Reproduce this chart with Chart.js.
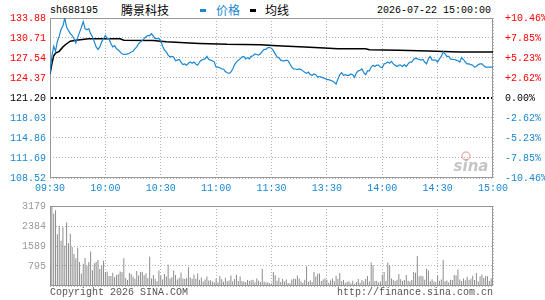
<!DOCTYPE html>
<html>
<head>
<meta charset="utf-8">
<script src="https://cdn.jsdelivr.net/npm/chart.js@4/dist/chart.umd.min.js"></script>
<style>
body { margin: 0; background: #fff; width: 545px; height: 300px; position: relative; overflow: hidden; }
canvas { position: absolute; left: 0; display: block; }
.txt { position: absolute; white-space: nowrap; font-family: 'Liberation Mono', 'DejaVu Sans Mono', monospace; font-size: 10px; line-height: 12px; color: #000; }
.cjk { position: absolute; white-space: nowrap; font-family: 'Noto Sans CJK SC', sans-serif; font-size: 12px; line-height: 14px; }
.dash { position: absolute; width: 6px; height: 3px; }
</style>
</head>
<body>
<div class="txt" style="left:50px;top:5px;">sh688195</div>
<div class="cjk" style="left:121px;top:3px;color:#000;">腾景科技</div>
<div class="dash" style="left:200px;top:9px;background:#1a87d0;"></div>
<div class="cjk" style="left:216px;top:3px;color:#1a87d0;">价格</div>
<div class="dash" style="left:250px;top:9px;background:#000;"></div>
<div class="cjk" style="left:265px;top:3px;color:#000;">均线</div>
<div class="txt" style="right:54px;top:5px;">2026-07-22 15:00:00</div>

<canvas id="priceChart" width="545" height="196" style="top:0;"></canvas>
<canvas id="volChart" width="545" height="104" style="top:196px;"></canvas>

<div class="txt" style="left:50px;top:287px;color:#555;">Copyright 2026 SINA.COM</div>
<div class="txt" style="right:52px;top:287px;color:#555;">http://finance.sina.com.cn</div>

<script>
// previous close and axis ticks
const prevClose = 121.20;
const priceTicks = [133.88, 130.71, 127.54, 124.37, 121.20, 118.03, 114.86, 111.69, 108.52];
const pctTicks = ['+10.46%', '+7.85%', '+5.23%', '+2.62%', '0.00%', '-2.62%', '-5.23%', '-7.85%', '-10.46%'];
const timeLabels = ['09:30', '10:00', '10:30', '11:00', '11:30', '13:30', '14:00', '14:30', '15:00'];
const timeTickMinutes = [0, 30, 60, 90, 120, 150, 180, 210, 240];
const volTicks = [0, 795, 1589, 2384, 3179];

// price per minute (index = minutes since 09:30, lunch break removed)
const priceValues = [
    125.0, 127.8, 129.4, 128.6, 130.2, 131.0, 132.1, 132.6, 133.88, 132.4,
    131.9, 131.4, 131.1, 130.6, 129.9, 130.8, 131.6, 132.4, 133.3, 132.2,
    132.0, 132.2, 131.4, 130.9, 130.1, 129.3, 128.9, 129.3, 130.1, 130.6,
    131.1, 130.6, 130.6, 129.8, 129.3, 129.5, 129.0, 128.8, 128.5, 128.2,
    128.1, 128.1, 128.2, 128.3, 128.5, 128.6, 129.0, 129.3, 129.8, 130.1,
    130.3, 130.6, 130.9, 131.1, 131.1, 131.4, 131.0, 130.6, 130.6, 130.6,
    130.3, 129.4, 128.8, 128.5, 128.0, 127.7, 127.8, 127.7, 127.1, 127.2,
    127.3, 126.9, 126.5, 126.6, 126.4, 126.7, 126.9, 126.7, 126.9, 126.6,
    126.4, 126.9, 127.2, 127.3, 127.4, 127.8, 127.3, 127.2, 127.1, 126.9,
    126.1, 126.1, 126.0, 125.8, 125.8, 125.4, 125.2, 125.1, 125.3, 125.8,
    126.5, 126.9, 127.2, 127.4, 127.7, 127.8, 127.4, 127.6, 127.4, 127.8,
    127.9, 128.2, 128.1, 128.0, 128.2, 128.6, 128.9, 128.9, 129.2, 129.2,
    129.1, 128.7, 128.2, 127.7, 127.6, 127.2, 127.1, 127.1, 127.2, 127.1,
    126.6, 126.1, 125.8, 125.8, 125.7, 125.8, 125.7, 125.5, 125.3, 125.1,
    125.3, 124.9, 124.8, 125.0, 124.9, 124.5, 124.6, 124.5, 124.4, 124.3,
    124.1, 124.1, 124.0, 123.9, 123.7, 123.4, 124.2, 124.9, 125.2, 124.8,
    124.9, 124.8, 124.8, 125.0, 124.9, 124.5, 125.2, 125.5, 125.6, 125.8,
    125.2, 124.9, 125.5, 125.5, 126.1, 126.4, 126.2, 126.4, 126.4, 126.1,
    126.0, 126.6, 126.7, 126.9, 126.7, 127.0, 126.6, 126.4, 126.2, 126.4,
    126.4, 126.2, 126.5, 126.2, 126.6, 126.9, 126.9, 127.3, 127.5, 127.4,
    127.3, 127.2, 127.3, 126.9, 126.6, 127.4, 127.8, 127.2, 127.2, 127.2,
    126.9, 127.4, 127.8, 128.5, 128.2, 127.8, 127.8, 127.4, 127.3, 127.3,
    127.2, 127.1, 126.9, 127.6, 127.3, 126.9, 126.6, 126.6, 126.5, 126.4,
    126.1, 126.2, 126.5, 126.6, 126.6, 126.3, 126.1, 126.1, 126.1, 126.1,
    126.1
];

// average price line, read at the points where it changes
const avgMinutes = [0, 1, 2, 3, 5, 7, 9, 11, 14, 21, 38, 40, 56, 60, 63, 73, 81, 96, 114, 123, 138, 146, 156, 171, 173, 189, 205, 222, 240];
const avgValues = [125.0, 126.6, 127.9, 128.3, 128.6, 129.3, 129.8, 130.2, 130.35, 130.6, 130.6, 130.35, 130.3, 130.2, 130.1, 129.95, 129.85, 129.7, 129.65, 129.5, 129.3, 129.15, 129.0, 129.0, 128.85, 128.75, 128.65, 128.5, 128.5];

// volume per minute
const volValues = [
    745, 3179, 2880, 3010, 2060, 2390, 1800, 2330, 1600, 2520,
    1700, 2080, 1550, 1270, 1100, 1520, 950, 500, 880, 1110,
    800, 950, 1370, 630, 900, 950, 1030, 680, 820, 1000,
    560, 580, 400, 400, 530, 350, 440, 470, 580, 560,
    1100, 320, 240, 520, 480, 380, 290, 600, 420, 560,
    560, 430, 510, 320, 1160, 300, 440, 290, 190, 620,
    410, 260, 480, 380, 850, 300, 350, 620, 440, 260,
    330, 540, 300, 280, 320, 745, 340, 290, 460, 290,
    500, 250, 340, 180, 260, 380, 220, 230, 180, 150,
    290, 150, 400, 270, 170, 330, 190, 220, 420, 190,
    280, 450, 200, 380, 200, 180, 160, 240, 200, 230,
    250, 140, 300, 210, 160, 690, 170, 140, 150, 110,
    100, 555, 430, 210, 330, 160, 280, 180, 260, 120,
    110, 260, 300, 280, 420, 300, 180, 120, 250, 780,
    170, 230, 160, 555, 380, 490, 500, 200, 260, 300,
    250, 130, 220, 300, 190, 410, 280, 515, 190, 240,
    130, 170, 190, 100, 210, 90, 160, 280, 130, 240,
    180, 280, 400, 180, 930, 820, 200, 210, 140, 180,
    450, 560, 210, 930, 820, 300, 240, 200, 250, 480,
    270, 200, 240, 440, 210, 180, 240, 560, 530, 1197,
    390, 420, 390, 250, 690, 620, 190, 270, 180, 150,
    420, 210, 260, 1033, 190, 220, 150, 250, 240, 440,
    420, 655, 260, 200, 300, 230, 370, 240, 290, 410,
    240, 520, 180, 380, 450, 320, 400, 390, 200, 300,
    300
];

const RED = '#ff0000';
const BLUE = '#1a87d0';
const GRID = '#b4b4b4';
const FRAME = '#999999';
const monoFont = { family: "'Liberation Mono', 'DejaVu Sans Mono', monospace", size: 10 };

function isPrevClose(v) {
    return Math.abs(v - prevClose) < 0.001;
}

function priceColor(v) {
    if (isPrevClose(v)) return '#000';
    return v > prevClose ? RED : BLUE;
}

function pctLabel(v) {
    const i = priceTicks.findIndex(p => Math.abs(p - v) < 0.001);
    return i >= 0 ? pctTicks[i] : '';
}

// grey box round the plot area
const framePlugin = {
    id: 'frame',
    beforeDatasetsDraw(chart) {
        const a = chart.chartArea;
        const ctx = chart.ctx;
        ctx.save();
        ctx.strokeStyle = FRAME;
        ctx.lineWidth = 1;
        ctx.strokeRect(Math.round(a.left) + 0.5, Math.round(a.top) + 0.5,
            Math.round(a.right - a.left) - 1, Math.round(a.bottom - a.top) - 1);
        ctx.restore();
    }
};

// black dashed line at the previous close
const prevClosePlugin = {
    id: 'prevClose',
    beforeDatasetsDraw(chart) {
        const a = chart.chartArea;
        const y = Math.round(chart.scales.y.getPixelForValue(prevClose));
        const ctx = chart.ctx;
        ctx.save();
        ctx.strokeStyle = '#000';
        ctx.lineWidth = 2;
        ctx.setLineDash([2, 2]);
        ctx.beginPath();
        ctx.moveTo(a.left + 1, y);
        ctx.lineTo(a.right - 1, y);
        ctx.stroke();
        ctx.restore();
    }
};

// faint sina watermark in the lower right corner
const sinaPlugin = {
    id: 'sina',
    beforeDatasetsDraw(chart) {
        const a = chart.chartArea;
        const ctx = chart.ctx;
        ctx.save();
        ctx.strokeStyle = 'rgba(230, 120, 120, 0.55)';
        ctx.lineWidth = 1.5;
        ctx.beginPath();
        ctx.arc(a.right - 27, a.bottom - 22, 4, 0, Math.PI * 2);
        ctx.stroke();
        ctx.fillStyle = 'rgba(150, 150, 150, 0.55)';
        ctx.font = "italic bold 15px 'DejaVu Sans', sans-serif";
        ctx.textAlign = 'center';
        ctx.textBaseline = 'middle';
        ctx.fillText('sina', a.right - 22, a.bottom - 11);
        ctx.restore();
    }
};

function setTicks(values) {
    return scale => {
        scale.ticks = values.slice().sort((a, b) => a - b).map(v => ({ value: v }));
    };
}

// price chart
new Chart(document.getElementById('priceChart'), {
    type: 'line',
    data: {
        datasets: [
            {
                label: '价格',
                data: priceValues.map((v, i) => ({ x: i, y: v })),
                borderColor: BLUE,
                borderWidth: 1.2,
                pointRadius: 0,
                tension: 0,
                yAxisID: 'y'
            },
            {
                label: '均线',
                data: avgMinutes.map((m, i) => ({ x: m, y: avgValues[i] })),
                borderColor: '#000',
                borderWidth: 1.5,
                pointRadius: 0,
                tension: 0,
                yAxisID: 'y'
            }
        ]
    },
    options: {
        responsive: false,
        animation: false,
        devicePixelRatio: 1,
        layout: { padding: { top: 18, left: 0, right: 0, bottom: 0 } },
        plugins: { legend: { display: false }, tooltip: { enabled: false } },
        scales: {
            x: {
                type: 'linear',
                min: 0,
                max: 240,
                afterBuildTicks: setTicks(timeTickMinutes),
                afterFit: s => { s.height = 18; },
                ticks: {
                    callback: v => timeLabels[timeTickMinutes.indexOf(v)],
                    color: BLUE,
                    font: monoFont,
                    padding: 4,
                    maxRotation: 0,
                    autoSkip: false
                },
                grid: { color: GRID, drawTicks: false },
                border: { display: false, dash: [1, 2] }
            },
            y: {
                position: 'left',
                min: 108.52,
                max: 133.88,
                afterBuildTicks: setTicks(priceTicks),
                afterFit: s => { s.width = 50; },
                ticks: {
                    callback: v => v.toFixed(2),
                    color: ctx => priceColor(ctx.tick.value),
                    font: monoFont,
                    padding: 4,
                    autoSkip: false
                },
                grid: {
                    color: ctx => isPrevClose(ctx.tick.value) ? 'rgba(0,0,0,0)' : GRID,
                    drawTicks: false
                },
                border: { display: false, dash: [1, 2] }
            },
            y2: {
                position: 'right',
                min: 108.52,
                max: 133.88,
                afterBuildTicks: setTicks(priceTicks),
                afterFit: s => { s.width = 52; },
                ticks: {
                    callback: v => pctLabel(v),
                    color: ctx => priceColor(ctx.tick.value),
                    font: monoFont,
                    padding: 4,
                    autoSkip: false
                },
                grid: { display: false },
                border: { display: false }
            }
        }
    },
    plugins: [framePlugin, prevClosePlugin, sinaPlugin]
});

// volume chart
new Chart(document.getElementById('volChart'), {
    type: 'bar',
    data: {
        datasets: [{
            label: 'volume',
            data: volValues.map((v, i) => ({ x: i, y: v })),
            backgroundColor: '#8c8c8c',
            borderWidth: 0,
            barThickness: 1,
            inflateAmount: 0
        }]
    },
    options: {
        responsive: false,
        animation: false,
        devicePixelRatio: 1,
        layout: { padding: { top: 6, left: 0, right: 52, bottom: 0 } },
        plugins: { legend: { display: false }, tooltip: { enabled: false } },
        scales: {
            x: {
                type: 'linear',
                min: 0,
                max: 240,
                offset: false,
                afterBuildTicks: setTicks(timeTickMinutes),
                afterFit: s => { s.height = 14; },
                ticks: { display: false },
                grid: { color: GRID, drawTicks: false, offset: false },
                border: { display: false, dash: [1, 2] }
            },
            y: {
                position: 'left',
                min: 0,
                max: 3179,
                afterBuildTicks: setTicks(volTicks),
                afterFit: s => { s.width = 50; },
                ticks: {
                    callback: v => (v === 0 ? '' : String(v)),
                    color: '#999999',
                    font: monoFont,
                    padding: 4,
                    autoSkip: false
                },
                grid: { color: GRID, drawTicks: false },
                border: { display: false, dash: [1, 2] }
            }
        }
    },
    plugins: [framePlugin]
});
</script>
</body>
</html>
